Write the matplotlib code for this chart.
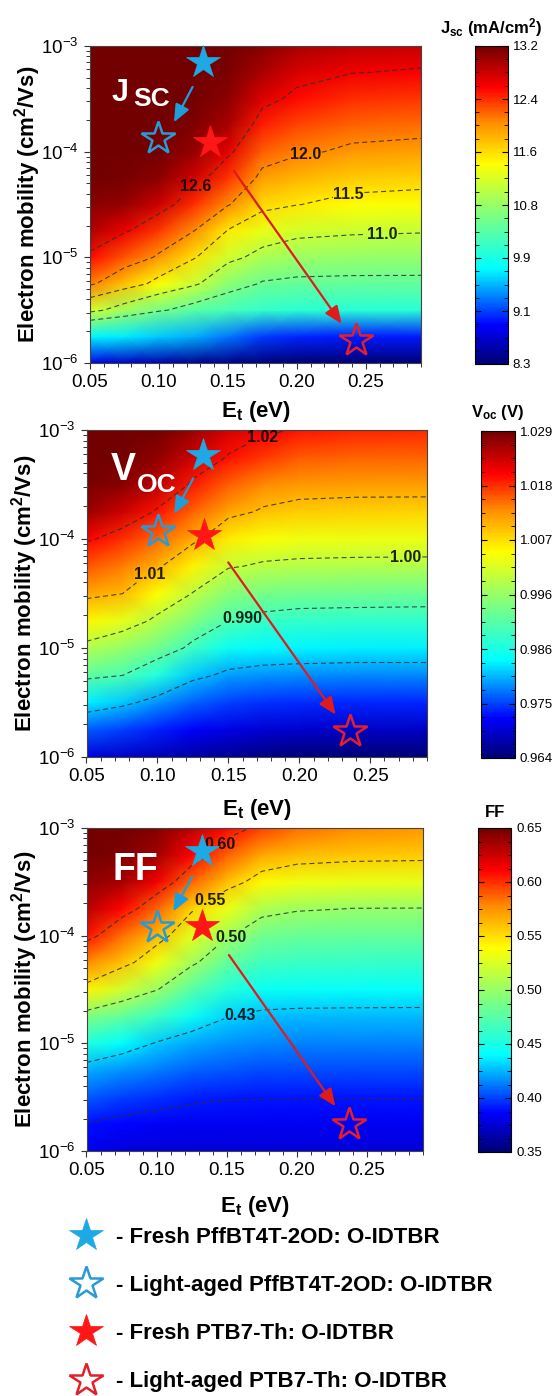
"""Jsc / Voc / FF maps vs trap energy and electron mobility, three stacked panels."""
import numpy as np
import matplotlib

matplotlib.use("Agg")
import matplotlib.pyplot as plt  # noqa: E402
from matplotlib.colors import LinearSegmentedColormap  # noqa: E402
from matplotlib.lines import Line2D  # noqa: E402
from matplotlib.ticker import (FixedLocator, FormatStrFormatter, LogLocator,  # noqa: E402
                               MultipleLocator, NullFormatter)

plt.rcParams["font.family"] = ["Liberation Sans", "DejaVu Sans"]
plt.rcParams["mathtext.fontset"] = "custom"
plt.rcParams["mathtext.rm"] = "Liberation Sans"
plt.rcParams["mathtext.bf"] = "Liberation Sans:bold"
plt.rcParams["mathtext.it"] = "Liberation Sans:italic"
plt.rcParams["lines.dashed_pattern"] = [4.5, 3.0]

# grid nodes of the maps (E_t in eV, log10 of electron mobility in cm2/Vs)
ET = [0.05, 0.075, 0.10, 0.125, 0.15, 0.175, 0.20, 0.24, 0.29]
LOG_MU = [-6.0, -5.75, -5.5, -5.25, -5.0, -4.75, -4.5, -4.25, -4.0, -3.75, -3.5, -3.25, -3.0]

# one row per LOG_MU node, one column per ET node
JSC = [
    [8.80, 8.65, 8.55, 8.45, 8.40, 8.35, 8.30, 8.30, 8.30],
    [9.75, 9.70, 9.60, 9.50, 9.30, 9.10, 9.01, 8.97, 8.97],
    [11.12, 10.82, 10.55, 10.35, 10.22, 10.10, 10.05, 10.04, 10.04],
    [12.06, 11.72, 11.38, 11.07, 10.69, 10.47, 10.43, 10.42, 10.42],
    [12.53, 12.24, 11.95, 11.54, 11.11, 10.88, 10.77, 10.74, 10.73],
    [12.92, 12.64, 12.35, 12.01, 11.48, 11.26, 11.12, 11.06, 11.03],
    [13.10, 13.03, 12.78, 12.38, 12.03, 11.61, 11.51, 11.40, 11.36],
    [13.20, 13.17, 13.08, 12.76, 12.36, 11.91, 11.79, 11.68, 11.64],
    [13.20, 13.20, 13.20, 13.04, 12.68, 12.19, 12.06, 11.94, 11.90],
    [13.20, 13.20, 13.20, 13.14, 12.95, 12.45, 12.29, 12.17, 12.13],
    [13.20, 13.20, 13.20, 13.20, 13.07, 12.71, 12.52, 12.38, 12.35],
    [13.20, 13.20, 13.20, 13.20, 13.15, 12.95, 12.74, 12.61, 12.57],
    [13.20, 13.20, 13.20, 13.20, 13.20, 13.10, 12.95, 12.85, 12.80],
]
VOC = [
    [0.9700, 0.9690, 0.9680, 0.9670, 0.9660, 0.9650, 0.9645, 0.9640, 0.9640],
    [0.9760, 0.9749, 0.9733, 0.9716, 0.9704, 0.9695, 0.9691, 0.9687, 0.9687],
    [0.9830, 0.9811, 0.9785, 0.9762, 0.9748, 0.9740, 0.9737, 0.9734, 0.9734],
    [0.9915, 0.9901, 0.9864, 0.9812, 0.9791, 0.9785, 0.9783, 0.9781, 0.9781],
    [0.9987, 0.9964, 0.9933, 0.9888, 0.9845, 0.9834, 0.9831, 0.9829, 0.9829],
    [1.0054, 1.0031, 0.9989, 0.9945, 0.9902, 0.9886, 0.9880, 0.9878, 0.9877],
    [1.0114, 1.0101, 1.0049, 0.9998, 0.9953, 0.9939, 0.9933, 0.9931, 0.9929],
    [1.0161, 1.0142, 1.0107, 1.0058, 1.0005, 0.9993, 0.9989, 0.9987, 0.9986],
    [1.0206, 1.0183, 1.0151, 1.0112, 1.0063, 1.0044, 1.0038, 1.0036, 1.0036],
    [1.0265, 1.0235, 1.0195, 1.0153, 1.0115, 1.0094, 1.0085, 1.0082, 1.0081],
    [1.0285, 1.0275, 1.0245, 1.0193, 1.0156, 1.0135, 1.0124, 1.0121, 1.0121],
    [1.0290, 1.0290, 1.0272, 1.0235, 1.0197, 1.0176, 1.0160, 1.0154, 1.0153],
    [1.0290, 1.0290, 1.0290, 1.0265, 1.0230, 1.0210, 1.0195, 1.0188, 1.0185],
]
FF = [
    [0.382, 0.378, 0.376, 0.376, 0.376, 0.376, 0.376, 0.376, 0.376],
    [0.3894, 0.3866, 0.3848, 0.3838, 0.3833, 0.3831, 0.383, 0.383, 0.383],
    [0.4059, 0.4003, 0.3965, 0.3929, 0.3911, 0.3908, 0.3905, 0.3905, 0.3905],
    [0.4231, 0.4176, 0.4126, 0.4074, 0.4042, 0.4024, 0.402, 0.4019, 0.4018],
    [0.4528, 0.4409, 0.4287, 0.4219, 0.4174, 0.4145, 0.414, 0.4138, 0.4136],
    [0.4909, 0.4798, 0.4643, 0.4438, 0.431, 0.4266, 0.4259, 0.4257, 0.4255],
    [0.5432, 0.5214, 0.5013, 0.475, 0.4553, 0.4447, 0.4429, 0.4422, 0.4421],
    [0.5782, 0.5592, 0.5333, 0.5048, 0.4796, 0.465, 0.4625, 0.4614, 0.4612],
    [0.6074, 0.5847, 0.5622, 0.5288, 0.5044, 0.4853, 0.482, 0.4805, 0.4801],
    [0.6304, 0.61, 0.5878, 0.5539, 0.5322, 0.509, 0.5025, 0.4996, 0.4994],
    [0.6425, 0.635, 0.6138, 0.5868, 0.5602, 0.541, 0.5338, 0.531, 0.530],
    [0.65, 0.6457, 0.6367, 0.6113, 0.5886, 0.5688, 0.5614, 0.558, 0.5569],
    [0.65, 0.65, 0.645, 0.63, 0.61, 0.595, 0.585, 0.578, 0.575],
]

JSC_LEVELS = [10.5, 11.0, 11.5, 12.0, 12.6]
VOC_LEVELS = [0.980, 0.990, 1.000, 1.010, 1.020]
FF_LEVELS = [0.39, 0.43, 0.50, 0.55, 0.60]

# contour label text (empty = unlabelled line) and where the labels sit
JSC_LABELS = {10.5: "", 11.0: "11.0", 11.5: "11.5", 12.0: "12.0", 12.6: "12.6"}
JSC_LABEL_AT = [(0.125, 5.0e-5), (0.207, 8.3e-5), (0.238, 3.7e-5), (0.262, 1.6e-5)]
VOC_LABELS = {0.98: "", 0.99: "0.990", 1.00: "1.00", 1.01: "1.01", 1.02: "1.02"}
VOC_LABEL_AT = [(0.176, 7.5e-4), (0.096, 4.5e-5), (0.275, 6.2e-5), (0.160, 1.8e-5)]
FF_LABELS = {0.39: "", 0.43: "0.43", 0.50: "0.50", 0.55: "0.55", 0.60: "0.60"}
FF_LABEL_AT = [(0.147, 6.7e-4), (0.138, 2.1e-4), (0.153, 9.8e-5), (0.159, 2.0e-5)]

# devices: fresh PffBT4T-2OD, aged PffBT4T-2OD, fresh PTB7-Th, aged PTB7-Th
JSC_ET_PTS = [0.132, 0.099, 0.137, 0.243]
JSC_MU_PTS = [7.1e-4, 1.34e-4, 1.24e-4, 1.66e-6]
VOC_ET_PTS = [0.132, 0.1005, 0.133, 0.2357]
VOC_MU_PTS = [5.9e-4, 1.18e-4, 1.09e-4, 1.73e-6]
FF_ET_PTS = [0.1326, 0.1005, 0.1325, 0.2374]
FF_MU_PTS = [6.1e-4, 1.2e-4, 1.23e-4, 1.79e-6]

# ageing arrows (start, end) for PffBT4T-2OD (blue) and PTB7-Th (red)
JSC_ARROWS = [((0.1244, 4.1e-4), (0.1109, 1.9e-4)), ((0.1543, 6.6e-5), (0.2324, 2.35e-6))]
VOC_ARROWS = [((0.1252, 3.6e-4), (0.1118, 1.7e-4)), ((0.1499, 6.1e-5), (0.2256, 2.45e-6))]
FF_ARROWS = [((0.1254, 3.55e-4), (0.1119, 1.68e-4)), ((0.1516, 6.6e-5), (0.2275, 2.6e-6))]

JSC_CBAR = ["8.3", "9.1", "9.9", "10.8", "11.6", "12.4", "13.2"]
VOC_CBAR = ["0.964", "0.975", "0.986", "0.996", "1.007", "1.018", "1.029"]
FF_CBAR = ["0.35", "0.40", "0.45", "0.50", "0.55", "0.60", "0.65"]

LEGEND_LABELS = [
    "- Fresh PffBT4T-2OD: O-IDTBR",
    "- Light-aged PffBT4T-2OD: O-IDTBR",
    "- Fresh PTB7-Th: O-IDTBR",
    "- Light-aged PTB7-Th: O-IDTBR",
]

BLUE = "#1ea8e4"
RED = "#ff1616"
STAR_STYLES = [
    dict(mfc=BLUE, mec=BLUE, mew=0.5),
    dict(mfc="none", mec="#2a9ad6", mew=1.8),
    dict(mfc=RED, mec=RED, mew=0.5),
    dict(mfc="none", mec="#e3202a", mew=1.8),
]
ARROW_COLORS = ["#1e9fdb", "#e01b1e"]

CMAP = LinearSegmentedColormap.from_list("rainbow_origin", [
    (0.00, (0.0, 0.0, 0.45)),
    (0.12, (0.0, 0.0, 1.0)),
    (0.30, (0.0, 1.0, 1.0)),
    (0.47, (0.5, 1.0, 0.5)),
    (0.63, (1.0, 1.0, 0.0)),
    (0.76, (1.0, 0.55, 0.0)),
    (0.87, (1.0, 0.0, 0.0)),
    (1.00, (0.45, 0.0, 0.0)),
])

W, H = 558, 1396


def rect(l, t, r, b):
    return [l / W, 1 - b / H, (r - l) / W, (b - t) / H]


def panel(fig, ax_px, cax_px, z, vmin, vmax, levels, labels, label_at, et_pts, mu_pts,
          arrows, cbar_labels, cbar_title, title_pad, tag, xlab_y, ylab_x):
    ax = fig.add_axes(rect(*ax_px))
    cax = fig.add_axes(rect(*cax_px))
    x = np.array(ET)
    y = 10.0 ** np.array(LOG_MU)
    zz = np.array(z)
    ax.set_yscale("log")
    ax.set_xlim(0.05, 0.29)
    ax.set_ylim(1e-6, 1e-3)
    mesh = ax.pcolormesh(x, y, zz, shading="gouraud", cmap=CMAP, vmin=vmin, vmax=vmax,
                         rasterized=True)
    cs = ax.contour(x, y, zz, levels=levels, colors="#2e2e2e", linewidths=0.8,
                    linestyles="dashed", alpha=0.85)
    texts = ax.clabel(cs, fmt=labels, manual=label_at, inline=True,
                      inline_spacing=1, fontsize=11.5, colors="black")
    for t in texts:
        t.set_rotation(0)
        t.set_fontweight("bold")
        t.set_zorder(3)

    for (start, end), c in zip(arrows, ARROW_COLORS):
        ax.annotate("", xy=end, xytext=start, zorder=4,
                    arrowprops=dict(arrowstyle="-|>,head_length=0.75,head_width=0.32",
                                    color=c, lw=1.6, shrinkA=0, shrinkB=0, mutation_scale=14))
    for xe, ym, st in zip(et_pts, mu_pts, STAR_STYLES):
        ax.plot([xe], [ym], ls="none", marker="*", ms=25, clip_on=False, zorder=5, **st)

    # big white panel tag, main letters plus optional subscript
    for s, tx, ty, size in tag:
        ax.text(tx, ty, s, transform=ax.transAxes, color="white", fontsize=size,
                fontweight="bold", va="baseline", ha="left", zorder=6)

    ax.xaxis.set_major_locator(MultipleLocator(0.05))
    ax.xaxis.set_minor_locator(MultipleLocator(0.01))
    ax.xaxis.set_major_formatter(FormatStrFormatter("%.2f"))
    ax.yaxis.set_major_locator(LogLocator(base=10, numticks=10))
    ax.yaxis.set_minor_locator(LogLocator(base=10, subs=np.arange(2, 10), numticks=10))
    ax.yaxis.set_minor_formatter(NullFormatter())
    ax.tick_params(which="both", direction="out", top=False, right=False, labelsize=13.5,
                   color="#333333")
    ax.tick_params(which="major", length=4.5, width=0.8)
    ax.tick_params(which="minor", length=2.8, width=0.7)
    for sp in ax.spines.values():
        sp.set_color("#444444")
        sp.set_linewidth(0.8)
    ax.set_xlabel(r"$\mathbf{E_t}$ (eV)", fontsize=16, fontweight="bold")
    ax.xaxis.set_label_coords(0.5, xlab_y)
    ax.set_ylabel(r"Electron mobility (cm$\mathbf{^2}$/Vs)", fontsize=16, fontweight="bold")
    ax.yaxis.set_label_coords(ylab_x, 0.5)

    cb = fig.colorbar(mesh, cax=cax, ticks=np.linspace(vmin, vmax, 7))
    cb.ax.set_yticklabels(cbar_labels)
    cb.ax.yaxis.set_minor_locator(FixedLocator(np.linspace(vmin, vmax, 25)))
    cb.ax.tick_params(which="both", direction="in", left=True, right=True, labelsize=9.5,
                      color="black")
    cb.ax.tick_params(which="major", length=4, width=0.8)
    cb.ax.tick_params(which="minor", length=3, width=0.6)
    cb.outline.set_linewidth(0.8)
    cb.ax.set_title(cbar_title, fontsize=12, fontweight="bold", pad=title_pad)
    return ax


def main():
    fig = plt.figure(figsize=(W / 100, H / 100), dpi=100)

    panel(fig, (90, 46, 421, 363), (475, 46, 508, 364), JSC, 8.3, 13.2, JSC_LEVELS,
          JSC_LABELS, JSC_LABEL_AT, JSC_ET_PTS, JSC_MU_PTS, JSC_ARROWS, JSC_CBAR,
          r"$\mathbf{J_{sc}}$ (mA/cm$\mathbf{^2}$)", 9,
          [("J", 0.066, 0.826, 22), ("SC", 0.131, 0.81, 19)], -0.114, -0.142)
    panel(fig, (86.5, 430, 427, 757), (481, 431, 515, 758), VOC, 0.964, 1.029, VOC_LEVELS,
          VOC_LABELS, VOC_LABEL_AT, VOC_ET_PTS, VOC_MU_PTS, VOC_ARROWS, VOC_CBAR,
          r"$\mathbf{V_{oc}}$ (V)", 10,
          [("V", 0.071, 0.847, 27), ("OC", 0.149, 0.811, 19)], -0.122, -0.137)
    panel(fig, (86.5, 828, 423, 1151), (477.6, 828, 511.4, 1152), FF, 0.35, 0.65, FF_LEVELS,
          FF_LABELS, FF_LABEL_AT, FF_ET_PTS, FF_MU_PTS, FF_ARROWS, FF_CBAR,
          "FF", 8, [("FF", 0.078, 0.839, 27)], -0.133, -0.138)

    handles = [Line2D([], [], ls="none", marker="*", ms=25, **st) for st in STAR_STYLES]
    fig.legend(handles, LEGEND_LABELS, loc="upper left", bbox_to_anchor=(49.4 / W, 1 - 1207 / H),
               frameon=False, prop=dict(size=16, weight="bold"), handlelength=1.5,
               handletextpad=0.6, labelspacing=1.22, borderpad=0.4)

    fig.savefig("out.png", dpi=100)
    plt.close(fig)


if __name__ == "__main__":
    main()
